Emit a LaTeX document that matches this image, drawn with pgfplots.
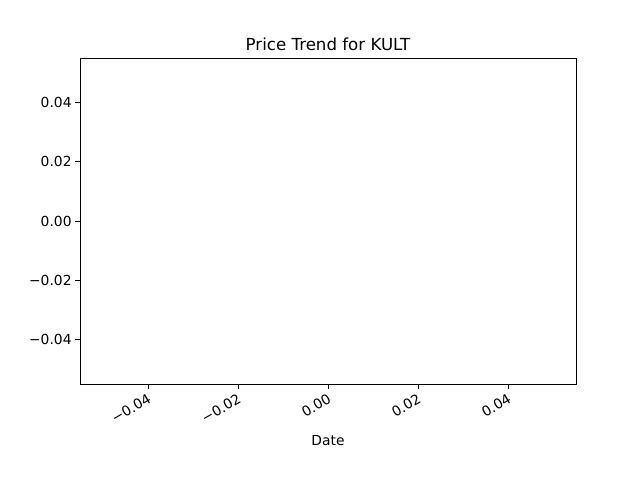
\documentclass[border=0pt]{standalone}
\usepackage{pgfplots}
\pgfplotsset{compat=1.18}
\usepackage{fontspec}
\setmainfont{DejaVu Sans}
\begin{document}
\begin{tikzpicture}[x=1bp,y=1bp]
\fill[white] (0,0) rectangle (640,480);
\begin{axis}[at={(80bp,96bp)},anchor=south west,scale only axis,
width=496bp,height=326bp,
scaled ticks=false,
xmin=-0.0551,xmax=0.0551,ymin=-0.0551,ymax=0.0551,
xtick={-0.04,-0.02,0,0.02,0.04},
xticklabels={−0.04,−0.02,0.00,0.02,0.04},
ytick={-0.04,-0.02,0,0.02,0.04},
yticklabels={−0.04,−0.02,0.00,0.02,0.04},
tick align=outside,major tick length=4.9bp,
tick style={black,line width=0.8bp},
axis line style={line width=0.8bp},
tick label style={font=\fontsize{13.9}{16}\selectfont},
xticklabel style={rotate=30,anchor=north east,inner sep=3bp},
xtick pos=bottom,ytick pos=left,
xlabel={Date},xlabel style={font=\fontsize{13.9}{16}\selectfont,yshift=-4bp},
title={Price Trend for KULT},title style={font=\fontsize{16.7}{19}\selectfont,yshift=-2bp},
]
\addplot[draw=none] coordinates {(0,0)};
\end{axis}
\end{tikzpicture}
\end{document}
